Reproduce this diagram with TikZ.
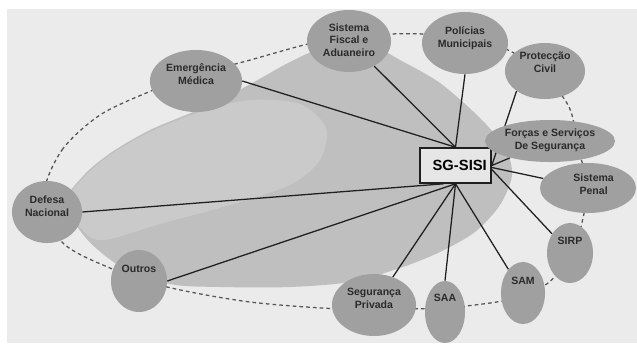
\documentclass[tikz,border=0pt]{standalone}
\usepackage{fontspec}
\setmainfont{Liberation Sans}
\usepackage{tikz}
\usetikzlibrary{
  shapes.geometric,
  backgrounds
}
\definecolor{PaperGray}{HTML}{EBEBEB}
\definecolor{BlobGray}{HTML}{BFBFBF}
\definecolor{TongueGray}{HTML}{CACACA}
\definecolor{NodeGray}{HTML}{A0A0A0}
\definecolor{HubFill}{HTML}{E6E6E6}
\definecolor{InkGray}{HTML}{1F1F1F}
\definecolor{TextGray}{HTML}{2B2B2B}
\definecolor{RingGray}{HTML}{555555}
\newcommand{\liftlbl}[2]{\raisebox{#1}[0pt][0pt]{\begin{tabular}{@{}c@{}}#2\end{tabular}}}

\begin{document}
\begin{tikzpicture}[
  x=0.025cm,
  y=-0.025cm,
  org/.style={
    ellipse,
    fill=NodeGray,
    inner sep=0pt,
    text=TextGray,
    font=\bfseries\fontsize{7.5}{9}\selectfont
  },
  hub/.style={
    rectangle,
    draw=InkGray,
    fill=HubFill,
    line width=1pt,
    minimum width=1.78cm,
    minimum height=0.88cm,
    inner sep=0pt,
    font=\bfseries\fontsize{10.5}{12}\selectfont
  },
  link/.style={draw=InkGray,line width=0.9pt},
  ring/.style={draw=RingGray,line width=0.9pt,dash pattern=on 2.6pt off 2.2pt}
]
\useasboundingbox (0,0) rectangle (637,343);

% Background, shaded area and dashed ring.
\begin{scope}[on background layer]
\fill[PaperGray] (7,9) rectangle (637,343);
\fill[BlobGray] plot[smooth cycle] coordinates {
  (66,202) (85,174) (112,152) (150,130) (200,109) (245,87) (290,62)
  (330,45) (370,45) (400,60) (440,83) (480,118) (505,148) (512,175)
  (500,205) (475,232) (440,252) (400,268) (350,282) (290,287)
  (220,287) (170,284) (120,266) (85,237)};
\fill[TongueGray] plot[smooth cycle] coordinates {
  (67,202) (86,175) (113,153) (150,132) (200,112) (250,100) (300,104)
  (326,128) (320,160) (290,185) (230,205) (160,224) (105,240) (84,232)};
\draw[ring] plot[smooth cycle] coordinates {
  (44,195) (62,150) (100,115) (151,91) (200,73) (243,62) (308,44)
  (350,37) (391,34) (423,34) (465,38) (508,50) (545,75) (568,105)
  (575,128) (580,155) (588,185) (583,218) (572,255) (548,283)
  (520,297) (490,303) (445,308) (400,309) (340,309) (250,302)
  (167,287) (110,268) (62,242)};
\end{scope}

% Central node.
\node[hub] (hub) at (455.5,165.5) {\hspace*{6pt}SG-SISI};

% Surrounding bodies.
\node[org,minimum width=2.30cm,minimum height=1.55cm] (emerg) at (196,81)
  {\liftlbl{2pt}{Emergência\\Médica}};
\node[org,minimum width=2.10cm,minimum height=1.55cm] (fiscal) at (349,41)
  {\liftlbl{-1.9pt}{Sistema\\Fiscal e\\Aduaneiro}};
\node[org,minimum width=2.15cm,minimum height=1.55cm] (policias) at (465,43)
  {\liftlbl{1.3pt}{Polícias\\Municipais}};
\node[org,minimum width=2.00cm,minimum height=1.40cm] (proteccao) at (545,71)
  {\liftlbl{3.8pt}{Protecção\\Civil}};
\node[org,minimum width=3.25cm,minimum height=1.05cm] (forcas) at (550,141)
  {\liftlbl{-1.2pt}{Forças e Serviços\\De Segurança}};
\node[org,minimum width=2.40cm,minimum height=1.25cm] (penal) at (588,188)
  {\liftlbl{0.2pt}{\hspace*{8pt}Sistema\\\hspace*{8pt}Penal}};
\node[org,minimum width=1.15cm,minimum height=1.50cm] (sirp) at (570,253)
  {\liftlbl{5.9pt}{SIRP}};
\node[org,minimum width=1.10cm,minimum height=1.55cm] (sam) at (523,293)
  {\liftlbl{5.9pt}{SAM}};
\node[org,minimum width=1.00cm,minimum height=1.55cm] (saa) at (445,312)
  {\liftlbl{7.3pt}{SAA}};
\node[org,minimum width=2.10cm,minimum height=1.55cm] (seguranca) at (374,305)
  {\liftlbl{2pt}{Segurança\\Privada}};
\node[org,minimum width=1.40cm,minimum height=1.55cm] (outros) at (139,281)
  {\liftlbl{5.9pt}{Outros}};
\node[org,minimum width=1.75cm,minimum height=1.55cm] (defesa) at (47,212)
  {\liftlbl{1.7pt}{Defesa\\Nacional}};

% Links to SG-SISI.
\begin{scope}[on background layer]
\draw[link] (emerg.east) -- (hub.north);
\draw[link] (fiscal) -- (hub.north);
\draw[link] (policias.south) -- (hub.north);
\draw[link] (proteccao.south west) -- (hub.east);
\draw[link] (forcas) -- (hub.east);
\draw[link] (penal) -- ([yshift=-0.05cm]hub.east);
\draw[link] (sirp) -- ([yshift=-0.1cm]hub.east);
\draw[link] (sam) -- (hub.south);
\draw[link] (saa.north) -- (hub.south);
\draw[link] (seguranca) -- (hub.south);
\draw[link] (outros.east) -- (hub.south);
\draw[link] (defesa.east) -- ([xshift=-0.3cm]hub.south);
\end{scope}
\end{tikzpicture}
\end{document}
